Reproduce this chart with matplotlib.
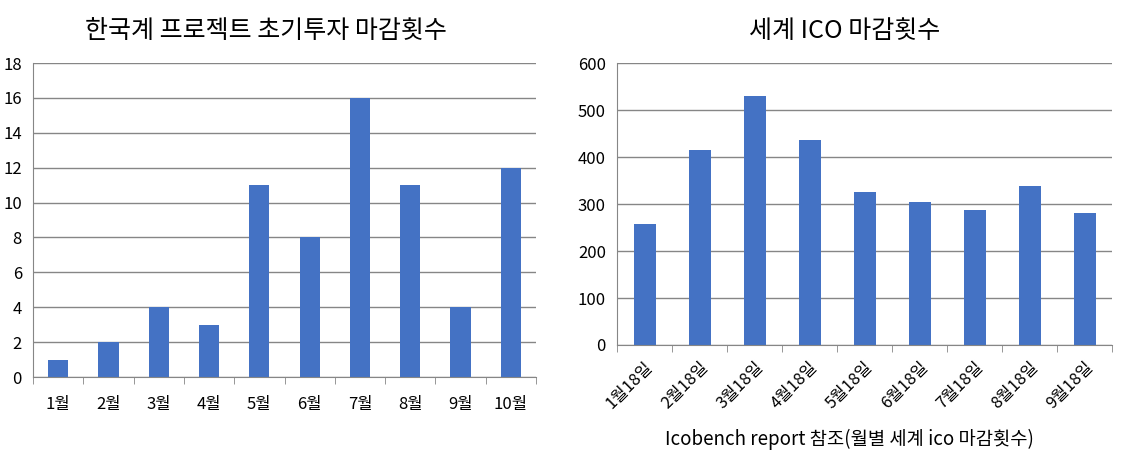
import numpy as np
import matplotlib
matplotlib.use("Agg")
import matplotlib.pyplot as plt

plt.rcParams['font.family'] = ['Noto Sans CJK KR', 'DejaVu Sans']

# 왼쪽: 한국계 프로젝트
kr_months = ['1월', '2월', '3월', '4월', '5월', '6월', '7월', '8월', '9월', '10월']
kr_counts = [1, 2, 4, 3, 11, 8, 16, 11, 4, 12]

# 오른쪽: 세계 ICO
world_months = ['1월18일', '2월18일', '3월18일', '4월18일', '5월18일',
                '6월18일', '7월18일', '8월18일', '9월18일']
world_counts = [258, 415, 530, 436, 326, 305, 288, 339, 280]

BAR = '#4472C4'
GRID = '#868686'

fig = plt.figure(figsize=(11.47, 4.54), dpi=100)


def style(ax, n, ymax, step):
    ax.set_xlim(-0.5, n - 0.5)
    ax.set_ylim(0, ymax)
    ax.set_yticks(np.arange(0, ymax + 1, step))
    ax.yaxis.grid(True, color=GRID, linewidth=1)
    ax.set_axisbelow(True)
    for s in ['top', 'right']:
        ax.spines[s].set_visible(False)
    ax.spines['left'].set_color(GRID)
    ax.spines['bottom'].set_color(GRID)
    ax.set_xticks(np.arange(n))
    ax.set_xticks(np.arange(-0.5, n, 1), minor=True)
    ax.tick_params(axis='x', which='major', length=0, pad=14, labelsize=12)
    ax.tick_params(axis='x', which='minor', length=5, color=GRID, direction='out')
    ax.tick_params(axis='y', length=0, labelsize=12, pad=8)


ax1 = fig.add_axes([0.0288, 0.1696, 0.4385, 0.6916])
ax1.bar(np.arange(len(kr_counts)), kr_counts, width=0.4, color=BAR)
style(ax1, len(kr_counts), 18, 2)
ax1.set_xticklabels(kr_months)
ax1.set_title('한국계 프로젝트 초기투자 마감횟수', fontsize=18, pad=18, x=0.463)

ax2 = fig.add_axes([0.538, 0.2401, 0.4316, 0.621])
ax2.bar(np.arange(len(world_counts)), world_counts, width=0.4, color=BAR)
style(ax2, len(world_counts), 600, 100)
ax2.set_xticklabels(world_months, rotation=45, ha='right', rotation_mode='anchor')
ax2.tick_params(axis='x', which='major', pad=10)
ax2.set_xlabel('Icobench report 참조(월별 세계 ico 마감횟수)', fontsize=13.5, labelpad=12, x=0.469)
ax2.set_title('세계 ICO 마감횟수', fontsize=18, pad=18, x=0.46)

fig.savefig('out.png', dpi=100)
